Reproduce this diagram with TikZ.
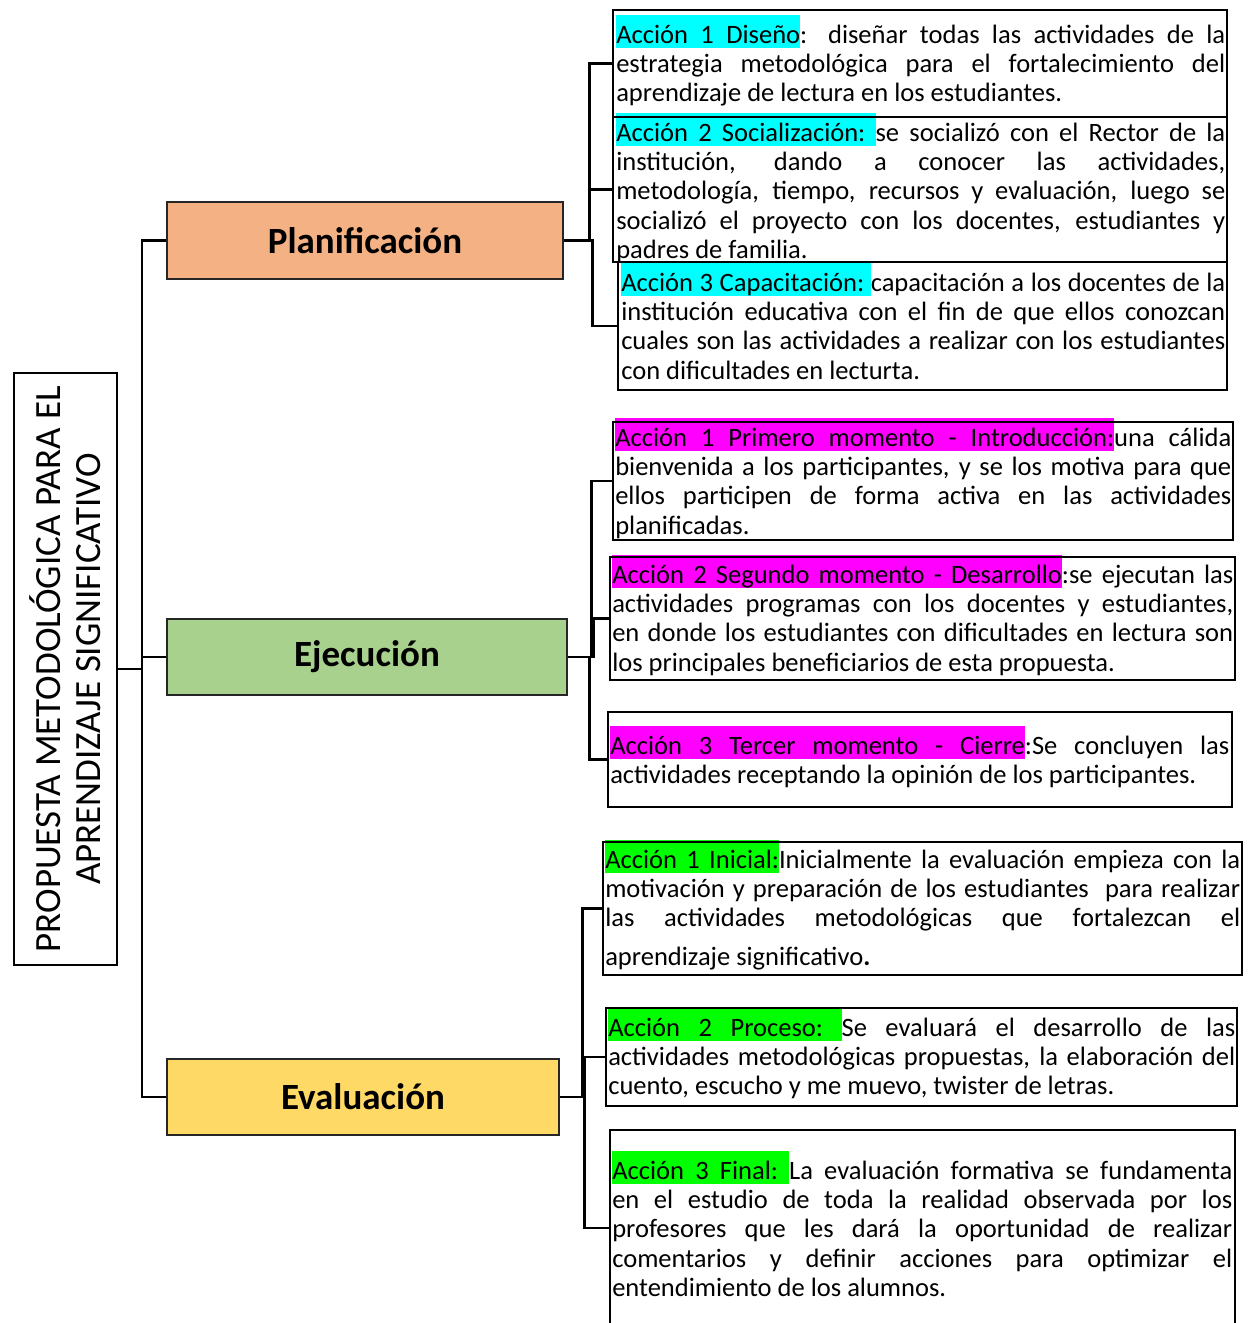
\documentclass[tikz,border=0pt]{standalone}
\usepackage{fontspec}
\setmainfont{Carlito}
\usetikzlibrary{fit}
\definecolor{planc}{HTML}{F4B183}
\definecolor{ejecc}{HTML}{A9D18E}
\definecolor{evalc}{HTML}{FFD966}
\definecolor{hcy}{HTML}{00FFFF}
\definecolor{hmg}{HTML}{FF00FF}
\definecolor{hgr}{HTML}{00FF00}
\newcommand\hbx[2]{{\setlength{\fboxsep}{0pt}\colorbox{#1}{\rule[-3.4pt]{0pt}{24.4pt}#2}}}
\newcommand\hsp[1]{{\color{#1}\leaders\hrule height 21pt depth 3.4pt\hskip\fontdimen2\font plus\fontdimen3\font minus\fontdimen4\font}}
\def\HLc{}
\newcommand\HL[2]{\def\HLc{#1}\HLi#2 \HLend}
\def\HLi#1 #2\HLend{\hbx{\HLc}{#1}\ifx\relax#2\relax\else\hsp{\HLc}\HLi#2\HLend\fi}
\newcommand\acfont{\fontsize{19.9pt}{22pt}\selectfont\lineskiplimit=-50pt\tolerance=10000\hyphenpenalty=10000}
\tikzset{
  conn/.style={line width=1.9pt, draw=black},
  actbox/.style={draw=black, line width=1.9pt, inner sep=0pt},
  catbox/.style={draw=black!85, line width=1.9pt, inner sep=0pt},
  catlabel/.style={inner sep=0pt, font=\fontsize{27.75pt}{30pt}\selectfont\bfseries},
  acttext/.style={anchor=north west, inner sep=0pt, align=justify, font=\acfont},
}
\begin{document}
\begin{tikzpicture}[x=0.75pt,y=-0.75pt]
\useasboundingbox (0,0) rectangle (1248,1323);
% texts
\node[acttext, text width=456.75pt] (p1t) at (616,15) {\HL{hcy}{Acción 1 Diseño}: diseñar todas las actividades de la\linebreak estrategia metodológica para el fortalecimiento del\linebreak aprendizaje de lectura en los estudiantes.};
\node[acttext, text width=456.75pt] (p2t) at (616,113) {\HL{hcy}{Acción 2 Socialización:}\hsp{hcy}se socializó con el Rector de la\linebreak institución, dando a conocer las actividades,\linebreak metodología, tiempo, recursos y evaluación, luego se\linebreak socializó el proyecto con los docentes, estudiantes y\linebreak padres de familia.};
\node[acttext, text width=453pt] (p3t) at (621,263) {\HL{hcy}{Acción 3 Capacitación:}\hsp{hcy}capacitación a los docentes de la\linebreak institución educativa con el fin de que ellos conozcan\linebreak cuales son las actividades a realizar con los estudiantes\linebreak con dificultades en lecturta.};
\node[acttext, text width=462pt] (e1t) at (615,418) {\HL{hmg}{Acción 1 Primero momento - Introducción:}una cálida\linebreak bienvenida a los participantes, y se los motiva para que\linebreak ellos participen de forma activa en las actividades\linebreak planificadas.};
\node[acttext, text width=465.75pt] (e2t) at (612,555) {\HL{hmg}{Acción 2 Segundo momento - Desarrollo}:se ejecutan las\linebreak actividades programas con los docentes y estudiantes,\linebreak en donde los estudiantes con dificultades en lectura son\linebreak los principales beneficiarios de esta propuesta.};
\node[acttext, text width=464.25pt] (e3t) at (610,726) {\HL{hmg}{Acción 3 Tercer momento - Cierre}:Se concluyen las\linebreak actividades receptando la opinión de los participantes.};
\node[acttext, text width=476.25pt] (v1t) at (605,840) {\HL{hgr}{Acción 1 Inicial:}Inicialmente la evaluación empieza con la\linebreak motivación y preparación de los estudiantes\ \ para realizar\linebreak las actividades metodológicas que fortalezcan el\vspace{6.75pt}\linebreak aprendizaje significativo\textbf{.}};
\node[acttext, text width=470.25pt] (v2t) at (608,1008) {\HL{hgr}{Acción 2 Proceso:}\hsp{hgr}Se evaluará el desarrollo de las\linebreak actividades metodológicas propuestas, la elaboración del\linebreak cuento, escucho y me muevo, twister de letras.};
\node[acttext, text width=465pt] (v3t) at (612,1151) {\HL{hgr}{Acción 3 Final:}\hsp{hgr}La evaluación formativa se fundamenta\linebreak en el estudio de toda la realidad observada por los\linebreak profesores que les dará la oportunidad de realizar\linebreak comentarios y definir acciones para optimizar el\linebreak entendimiento de los alumnos.};
% action boxes
\node[actbox, fit={(613,10) (1227,117)}] (p1) {};
\node[actbox, fit={(613,117) (1227,262)}] (p2) {};
\node[actbox, fit={(618,262) (1227,390)}] (p3) {};
\node[actbox, fit={(613,422) (1233,540)}] (e1) {};
\node[actbox, fit={(610,557) (1235,680)}] (e2) {};
\node[actbox, fit={(608,712) (1232,807)}] (e3) {};
\node[actbox, fit={(603,842) (1242,975)}] (v1) {};
\node[actbox, fit={(606,1008) (1237,1106)}] (v2) {};
\node[actbox, fit={(610,1130) (1235,1326)}] (v3) {};
% categories
\node[catbox, fill=planc, fit={(167,202) (563,279)}] (plan) {};
\node[catlabel] (planl) at (plan.center) {Planificación};
\node[catbox, fill=ejecc, fit={(167,619) (567,695)}] (ejec) {};
\node[catlabel] (ejecl) at (ejec.center) {Ejecución};
\node[catbox, fill=evalc, fit={(167,1059) (559,1135)}] (eval) {};
\node[catlabel] (evall) at (eval.center) {Evaluación};
% title
\node[actbox, fit={(14,373) (117,965)}] (title) {};
\node[rotate=90, align=center, inner sep=0pt, font=\fontsize{27.75pt}{30pt}\selectfont] (titlet) at (title.center) {PROPUESTA METODOLÓGICA PARA EL\\APRENDIZAJE SIGNIFICATIVO};
% connectors
\coordinate (tr) at (142,669);
\draw[conn] (title.east) -- (tr);
\draw[conn] (tr) |- (plan.west);
\draw[conn] (tr) |- (ejec.west);
\draw[conn] (tr) |- (eval.west);
\draw[conn] (plan.east) -- ++(25,0) |- (p1.west);
\draw[conn] (plan.east) -- ++(25,0) |- (p2.west);
\draw[conn] (plan.east) -- ++(28,0) |- (p3.west);
\draw[conn] (ejec.east) -- ++(23,0) |- (e1.west);
\draw[conn] (ejec.east) -- ++(25,0) |- (e2.west);
\draw[conn] (ejec.east) -- ++(21,0) |- (e3.west);
\draw[conn] (eval.east) -- ++(22,0) |- (v1.west);
\draw[conn] (eval.east) -- ++(24,0) |- (v2.west);
\draw[conn] (eval.east) -- ++(24,0) |- (v3.west);
\end{tikzpicture}
\end{document}
